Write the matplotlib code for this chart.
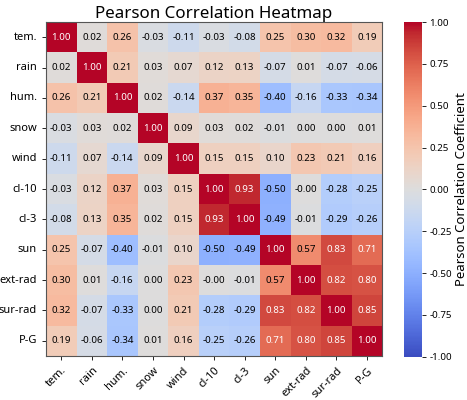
import numpy as np
import matplotlib
matplotlib.use("Agg")
import matplotlib.pyplot as plt
import seaborn as sns

# variable names (rows and columns)
labels = ["tem.", "rain", "hum.", "snow", "wind", "cl-10", "cl-3",
          "sun", "ext-rad", "sur-rad", "P-G"]

# correlation values, row by row
r_tem = [1.00, 0.02, 0.26, -0.03, -0.11, -0.03, -0.08, 0.25, 0.30, 0.32, 0.19]
r_rain = [0.02, 1.00, 0.21, 0.03, 0.07, 0.12, 0.13, -0.07, 0.01, -0.07, -0.06]
r_hum = [0.26, 0.21, 1.00, 0.02, -0.14, 0.37, 0.35, -0.40, -0.16, -0.33, -0.34]
r_snow = [-0.03, 0.03, 0.02, 1.00, 0.09, 0.03, 0.02, -0.01, 0.00, 0.00, 0.01]
r_wind = [-0.11, 0.07, -0.14, 0.09, 1.00, 0.15, 0.15, 0.10, 0.23, 0.21, 0.16]
r_cl10 = [-0.03, 0.12, 0.37, 0.03, 0.15, 1.00, 0.93, -0.50, -0.0, -0.28, -0.25]
r_cl3 = [-0.08, 0.13, 0.35, 0.02, 0.15, 0.93, 1.00, -0.49, -0.01, -0.29, -0.26]
r_sun = [0.25, -0.07, -0.40, -0.01, 0.10, -0.50, -0.49, 1.00, 0.57, 0.83, 0.71]
r_ext = [0.30, 0.01, -0.16, 0.00, 0.23, -0.0, -0.01, 0.57, 1.00, 0.82, 0.80]
r_sur = [0.32, -0.07, -0.33, 0.00, 0.21, -0.28, -0.29, 0.83, 0.82, 1.00, 0.85]
r_pg = [0.19, -0.06, -0.34, 0.01, 0.16, -0.25, -0.26, 0.71, 0.80, 0.85, 1.00]

corr = np.array([r_tem, r_rain, r_hum, r_snow, r_wind, r_cl10, r_cl3,
                 r_sun, r_ext, r_sur, r_pg])

cbar_ticks = [-1.0, -0.75, -0.5, -0.25, 0.0, 0.25, 0.5, 0.75, 1.0]

plt.rcParams["font.family"] = ["Noto Sans", "DejaVu Sans"]

fig = plt.figure(figsize=(4.67, 4.0), dpi=100)
ax = fig.add_axes([0.0985, 0.11, 0.72, 0.835])
cax = fig.add_axes([0.865, 0.108, 0.039, 0.837])

sns.heatmap(
    corr,
    ax=ax,
    cbar_ax=cax,
    cmap="coolwarm",
    vmin=-1,
    vmax=1,
    annot=True,
    fmt=".2f",
    annot_kws={"size": 7},
    xticklabels=labels,
    yticklabels=labels,
)

# white text only on the darkest red cells
for t, v in zip(ax.texts, corr.ravel()):
    t.set_color("white" if v > 0.65 else "black")

for s in ax.spines.values():
    s.set_visible(True)
    s.set_color("#555555")
    s.set_linewidth(0.8)

ax.set_title("Pearson Correlation Heatmap", fontsize=12.2, pad=2)
ax.tick_params(axis="both", labelsize=8, length=3, width=0.6)
ax.set_xticklabels(labels, rotation=45, ha="right", rotation_mode="anchor")
ax.set_yticklabels(labels, rotation=0)

cax.tick_params(labelsize=7, length=3, width=0.6, pad=2)
cax.set_yticks(cbar_ticks)
cax.set_yticklabels([f"{v:.2f}" for v in cbar_ticks])
cax.set_ylabel("Pearson Correlation Coefficient", fontsize=9.5, labelpad=2)

fig.savefig("out.png", dpi=100)
